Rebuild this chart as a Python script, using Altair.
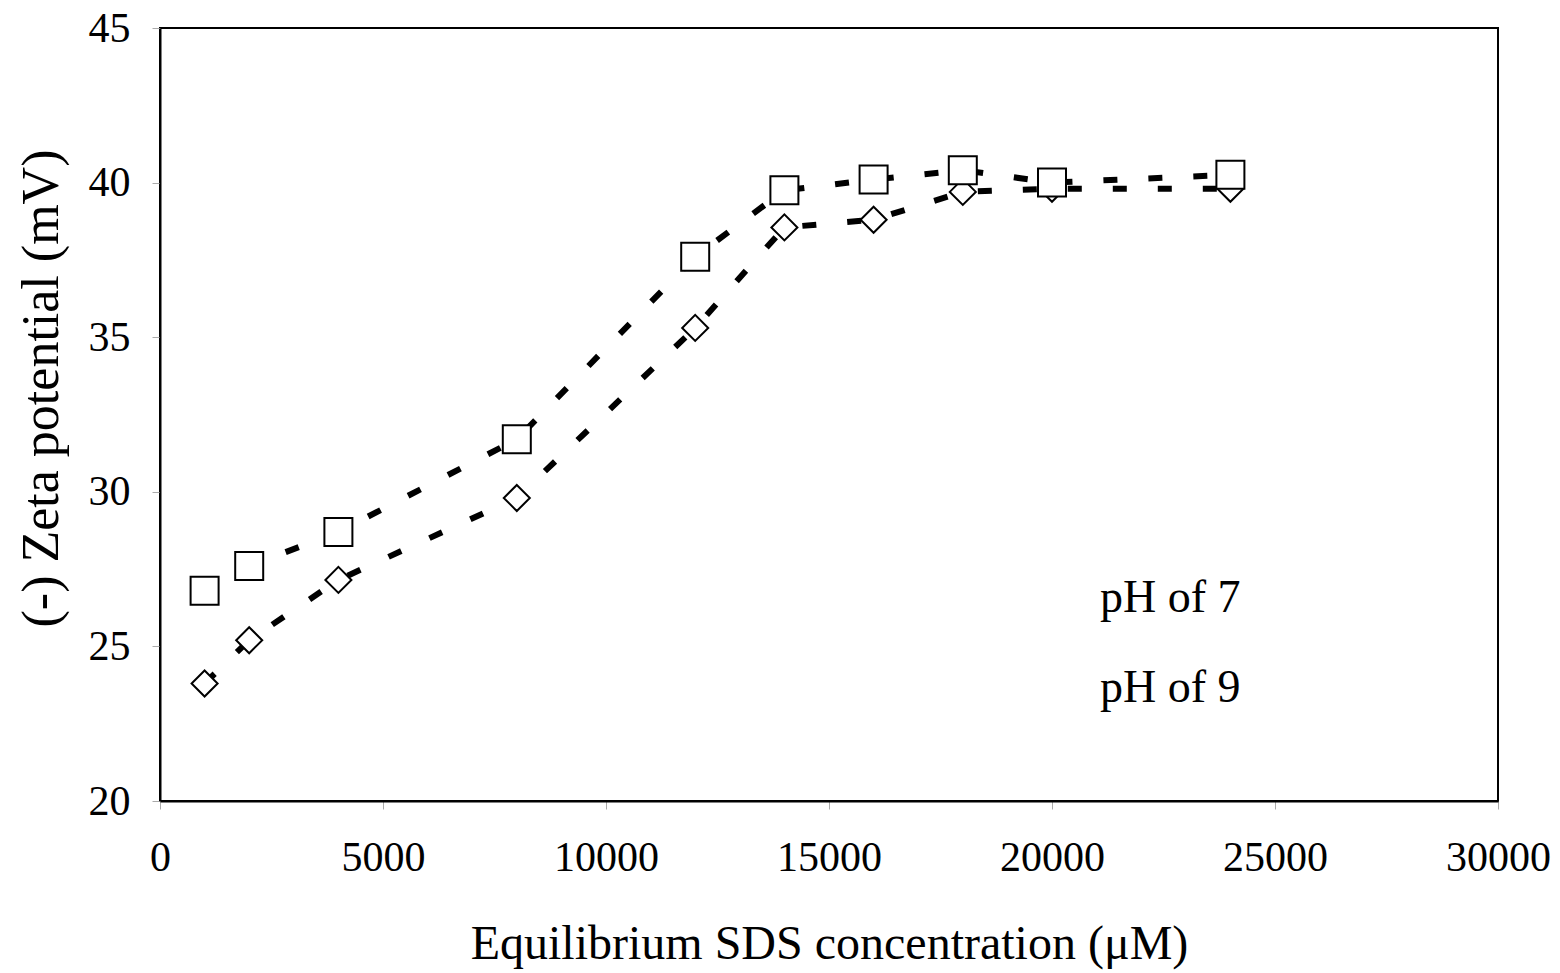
import altair as alt
import pandas as pd

conc = [1000, 2000, 4000, 8000, 12000, 14000, 16000, 18000, 20000, 24000]
ph7 = [23.8, 25.2, 27.15, 29.8, 35.3, 38.55, 38.8, 39.7, 39.8, 39.8]
ph9 = [26.8, 27.6, 28.7, 31.7, 37.6, 39.75, 40.1, 40.4, 40.0, 40.25]
series = ["pH of 7", "pH of 9"]

df = pd.DataFrame({
    "conc": conc * 2,
    "zeta": ph7 + ph9,
    "series": [series[0]] * len(conc) + [series[1]] * len(conc),
})

FONT = "Liberation Serif"

DIAMOND = "M0,-0.93L0.93,0L0,0.93L-0.93,0Z"
SQUARE = "M-1,-1H1V1H-1Z"

x = alt.X("conc:Q", scale=alt.Scale(domain=[0, 30000], nice=False),
          axis=alt.Axis(values=[0, 5000, 10000, 15000, 20000, 25000, 30000],
                        title="Equilibrium SDS concentration (μM)", format="d",
                        titlePadding=42, titleFontSize=48, labelFlush=False,
                        labelOverlap=False))
y = alt.Y("zeta:Q", scale=alt.Scale(domain=[20, 45], nice=False, zero=False),
          axis=alt.Axis(values=[20, 25, 30, 35, 40, 45], title="(-) Zeta potential (mV)",
                        titlePadding=20, titleFontSize=52, labelPadding=22, titleY=360,
                        labelFlush=False, labelOverlap=False))

lines = alt.Chart(df).mark_line(color="black", strokeWidth=6, strokeDash=[14, 31]).encode(
    x=x, y=y, detail="series:N"
)

points = alt.Chart(df).mark_point(filled=True, fill="white", stroke="black", strokeWidth=2,
                                  opacity=1, size=784).encode(
    x=x, y=y,
    shape=alt.Shape("series:N", scale=alt.Scale(domain=series, range=[DIAMOND, SQUARE]),
                    legend=alt.Legend(title=None, orient="none", legendX=870, legendY=547,
                                      padding=0, labelFontSize=46, labelFont=FONT,
                                      labelColor="black", symbolSize=484,
                                      symbolStrokeColor="black", symbolFillColor="white",
                                      symbolStrokeWidth=2, symbolOpacity=1,
                                      rowPadding=44, labelOffset=24)),
)

chart = alt.layer(lines, points).properties(
    width=1338, height=773,
    autosize=alt.AutoSizeParams(type="none"),
    padding={"left": 160, "top": 28, "right": 62, "bottom": 172},
).configure_view(
    stroke="black", strokeWidth=2
).configure_axis(
    grid=False, domainColor="black", domainWidth=2,
    tickColor="#aaaaaa", tickSize=8, tickWidth=1,
    labelFont=FONT, labelFontSize=42, labelColor="black", labelPadding=28,
    titleFont=FONT, titleColor="black", titleFontWeight="normal",
)

chart.save("out.html", embed_options={"renderer": "svg", "actions": False})
